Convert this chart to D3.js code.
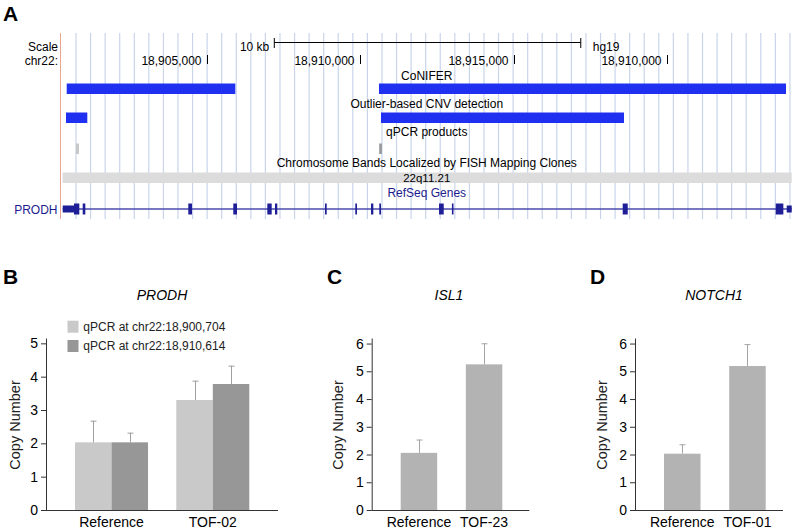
<!DOCTYPE html>
<html><head><meta charset="utf-8">
<script src="https://cdn.jsdelivr.net/npm/d3@7/dist/d3.min.js"></script>
<style>body{margin:0;background:#fff}svg{display:block;font-family:Arial,"Liberation Sans",Helvetica,sans-serif}</style>
</head><body><svg id="c" width="797" height="530"></svg>
<script>
// ---------- Panel A data (genome browser, chr22, hg19) ----------
const viewRange = [18900200, 18924100];
const genomicTickPos = [18905000, 18910000, 18915000, 18920000];
const genomicTickLabels = ["18,905,000", "18,910,000", "18,915,000", "18,910,000"];
const scaleBarRange = [18907192, 18917192];
const coniferSegments = [[18900419, 18905920], [18910608, 18923888]];
const outlierSegments = [[18900396, 18901091], [18910673, 18918602]];
const qpcrProducts = [[18900720, 18900820], [18910614, 18910704]];
const fishBands = [[18900285, 18924075]];
const fishBandNames = ["22q11.21"];
const geneName = "PRODH";
const geneSpan = [18900288, 18924075];
const exonStarts = [18900288, 18900657, 18900941, 18904386, 18905854, 18906964, 18907215, 18908847, 18909835, 18910348, 18910618, 18912567, 18912987, 18918560, 18923553, 18923912];
const exonEnds   = [18900657, 18900830, 18901026, 18904507, 18905975, 18907107, 18907290, 18908902, 18909890, 18910423, 18910674, 18912720, 18913029, 18918724, 18923801, 18924075];
const exonIsUTR  = [true, false, false, false, false, false, false, false, false, false, false, false, false, false, false, true];

// ---------- Panel B data ----------
const bCategories = ["Reference", "TOF-02"];
const bSeries = ["qPCR at chr22:18,900,704", "qPCR at chr22:18,910,614"];
const bValues = [[2.03, 2.03], [3.30, 3.78]];
const bErrors = [[0.65, 0.29], [0.58, 0.55]];
const bTicks = [0, 1, 2, 3, 4, 5];

// ---------- Panel C data ----------
const cCategories = ["Reference", "TOF-23"];
const cValues = [2.06, 5.25];
const cErrors = [0.48, 0.76];
const cTicks = [0, 1, 2, 3, 4, 5, 6];

// ---------- Panel D data ----------
const dCategories = ["Reference", "TOF-01"];
const dValues = [2.03, 5.19];
const dErrors = [0.34, 0.79];
const dTicks = [0, 1, 2, 3, 4, 5, 6];

const svg = d3.select("#c");
svg.append("rect").attr("width", 797).attr("height", 530).attr("fill", "#fff");

// ================= Panel A =================
const A = svg.append("g");
const xg = d3.scaleLinear().domain(viewRange).range([60, 792.5]);
const midX = (xg.range()[0] + xg.range()[1]) / 2 + 0.5;

// guide lines
A.selectAll("line.grid").data(d3.range(76, 791, 14.57)).join("line")
  .attr("x1", d => d).attr("x2", d => d).attr("y1", 33).attr("y2", 219)
  .attr("stroke", "#c9d4eb").attr("stroke-width", 1.2);
A.append("line").attr("x1", 60.5).attr("x2", 60.5).attr("y1", 33).attr("y2", 219)
  .attr("stroke", "#eba593").attr("stroke-width", 1);

const tA = (x, y, s, anchor, fill, size) => A.append("text").attr("x", x).attr("y", y)
  .attr("text-anchor", anchor || "start").attr("dominant-baseline", "central")
  .attr("font-size", size || 12).attr("fill", fill || "#000").text(s);

svg.append("text").attr("x", 3).attr("y", 20.5).attr("font-size", 21).attr("font-weight", "bold").text("A");

tA(58, 47, "Scale", "end");
tA(58, 61, "chr22:", "end");
// scale bar
const sb0 = xg(scaleBarRange[0]), sb1 = xg(scaleBarRange[1]);
tA(sb0 - 5, 47, "10 kb", "end");
A.append("line").attr("x1", sb0).attr("x2", sb1).attr("y1", 42.5).attr("y2", 42.5).attr("stroke", "#000");
[sb0, sb1].forEach(x => A.append("line").attr("x1", x).attr("x2", x).attr("y1", 38).attr("y2", 48).attr("stroke", "#000"));
tA(sb1 + 12, 47, "hg19", "start");
// position ticks
genomicTickPos.forEach((p, i) => {
  const x = Math.round(xg(p)) + 0.5;
  A.append("line").attr("x1", x).attr("x2", x).attr("y1", 55).attr("y2", 64).attr("stroke", "#000");
  tA(x - 6, 61, genomicTickLabels[i], "end");
});

const blue = "#2030f0";
// CoNIFER
tA(midX, 75.5, "CoNIFER", "middle");
A.selectAll("rect.con").data(coniferSegments).join("rect")
  .attr("x", d => xg(d[0])).attr("width", d => xg(d[1]) - xg(d[0]))
  .attr("y", 83.5).attr("height", 10.5).attr("fill", blue);
// Outlier-based
tA(midX, 103.5, "Outlier-based CNV detection", "middle");
A.selectAll("rect.out").data(outlierSegments).join("rect")
  .attr("x", d => xg(d[0])).attr("width", d => xg(d[1]) - xg(d[0]))
  .attr("y", 112.5).attr("height", 10.5).attr("fill", blue);
// qPCR products
tA(midX, 132, "qPCR products", "middle");
const qpcrColors = ["#c8c8c8", "#9a9a9a"];
A.selectAll("rect.q").data(qpcrProducts).join("rect")
  .attr("x", d => xg(d[0])).attr("width", d => Math.max(2.5, xg(d[1]) - xg(d[0])))
  .attr("y", 143.5).attr("height", 10.5).attr("fill", (d, i) => qpcrColors[i]);
// FISH bands
tA(midX, 162.5, "Chromosome Bands Localized by FISH Mapping Clones", "middle");
A.selectAll("rect.b").data(fishBands).join("rect")
  .attr("x", d => xg(d[0])).attr("width", d => xg(d[1]) - xg(d[0]))
  .attr("y", 172.5).attr("height", 10.5).attr("fill", "#dcdcdc");
fishBands.forEach((d, i) => tA(midX, 178, fishBandNames[i], "middle", "#000", 11.5));
// RefSeq
tA(midX, 192.5, "RefSeq Genes", "middle", "#1c1c8e");
tA(57.5, 209.5, geneName, "end", "#1c1c8e");
A.append("line").attr("x1", xg(geneSpan[0])).attr("x2", xg(geneSpan[1])).attr("y1", 209).attr("y2", 209)
  .attr("stroke", "#4a4aae").attr("stroke-width", 1.4);
A.selectAll("rect.ex").data(exonStarts.map((s, i) => ({s, e: exonEnds[i], u: exonIsUTR[i]}))).join("rect")
  .attr("x", d => xg(d.s)).attr("width", d => Math.max(1.6, xg(d.e) - xg(d.s)))
  .attr("y", d => d.u ? 205.5 : 203.5).attr("height", d => d.u ? 7 : 11)
  .attr("fill", "#1e1e96");

// ================= Bar panels =================
const axisColor = "#333";
function styleAxis(g) {
  g.selectAll("path, line").attr("stroke", axisColor);
  g.selectAll("text").attr("font-size", 14).attr("fill", "#000");
}
function panelFrame(cfg) {
  const y = d3.scaleLinear().domain([0, cfg.top]).range([510, 338]);
  const gy = svg.append("g").attr("transform", `translate(${cfg.axisX},0)`)
    .call(d3.axisLeft(y).tickValues(cfg.ticks).tickFormat(d3.format("d")).tickSize(5).tickPadding(3).tickSizeOuter(0));
  styleAxis(gy);
  svg.append("line").attr("x1", cfg.axisX).attr("x2", cfg.axisEnd).attr("y1", 510.5).attr("y2", 510.5)
    .attr("stroke", axisColor);
  svg.append("text").attr("transform", `translate(${cfg.labelX},425) rotate(-90)`)
    .attr("text-anchor", "middle").attr("dominant-baseline", "central")
    .attr("font-size", 14.5).attr("fill", "#222").text("Copy Number");
  svg.append("text").attr("x", cfg.titleX).attr("y", 295).attr("text-anchor", "middle")
    .attr("dominant-baseline", "central").attr("font-size", 14).attr("font-style", "italic").text(cfg.title);
  svg.append("text").attr("x", cfg.letterX).attr("y", 283.5).attr("font-size", 21).attr("font-weight", "bold").text(cfg.letter);
  return y;
}
function errBar(x, y0, y1, color) {
  svg.append("line").attr("x1", x).attr("x2", x).attr("y1", y0).attr("y2", y1).attr("stroke", color);
  svg.append("line").attr("x1", x - 3).attr("x2", x + 3).attr("y1", y1 + 0.5).attr("y2", y1 + 0.5).attr("stroke", color);
}
function catLabels(x, cats) {
  cats.forEach(c => svg.append("text").attr("x", x(c) + x.bandwidth() / 2).attr("y", 522)
    .attr("text-anchor", "middle").attr("dominant-baseline", "central").attr("font-size", 14).text(c));
}

// Panel B
{
  const y = panelFrame({top: 5.16, ticks: bTicks, axisX: 46, axisEnd: 278, labelX: 15, titleX: 162, title: "PRODH", letter: "B", letterX: 3});
  const x = d3.scaleBand().domain(bCategories).range([75, 249.3]).paddingInner(0.279);
  const xs = d3.scaleBand().domain(bSeries).range([0, x.bandwidth()]);
  const colors = ["#c9c9c9", "#979797"];
  bCategories.forEach((c, ci) => {
    bSeries.forEach((s, si) => {
      const v = bValues[ci][si];
      const bx = x(c) + xs(s);
      svg.append("rect").attr("x", bx).attr("width", xs.bandwidth()).attr("y", y(v)).attr("height", y(0) - y(v)).attr("fill", colors[si]);
      errBar(Math.round(bx + xs.bandwidth() / 2) + 0.5, y(v), y(v + bErrors[ci][si]), "#a0a0a0");
    });
  });
  catLabels(x, bCategories);
  // legend
  bSeries.forEach((s, i) => {
    const yy = 326.7 + i * 19.3;
    svg.append("rect").attr("x", 67.5).attr("y", yy - 6).attr("width", 11).attr("height", 12).attr("fill", colors[i]);
    svg.append("text").attr("x", 83.3).attr("y", yy).attr("dominant-baseline", "central")
      .attr("font-size", 12).attr("fill", "#222").text(s);
  });
}
// Panel C & D
function singlePanel(cfg, cats, vals, errs, ticks) {
  const y = panelFrame(Object.assign({top: 6.2, ticks}, cfg));
  const x = d3.scaleBand().domain(cats).range(cfg.barRange).paddingInner(0.44);
  cats.forEach((c, i) => {
    const v = vals[i];
    svg.append("rect").attr("x", x(c)).attr("width", x.bandwidth()).attr("y", y(v)).attr("height", y(0) - y(v)).attr("fill", "#b3b3b3");
    errBar(Math.round(x(c) + x.bandwidth() / 2) + 0.5, y(v), y(v + errs[i]), "#a5a5a5");
  });
  catLabels(x, cats);
}
singlePanel({axisX: 371.7, axisEnd: 529.3, labelX: 338, titleX: 449, title: "ISL1", letter: "C", letterX: 327, barRange: [400.7, 502.3]}, cCategories, cValues, cErrors, cTicks);
singlePanel({axisX: 635, axisEnd: 783, labelX: 601.7, titleX: 714, title: "NOTCH1", letter: "D", letterX: 590, barRange: [664, 765.7]}, dCategories, dValues, dErrors, dTicks);
</script></body></html>
